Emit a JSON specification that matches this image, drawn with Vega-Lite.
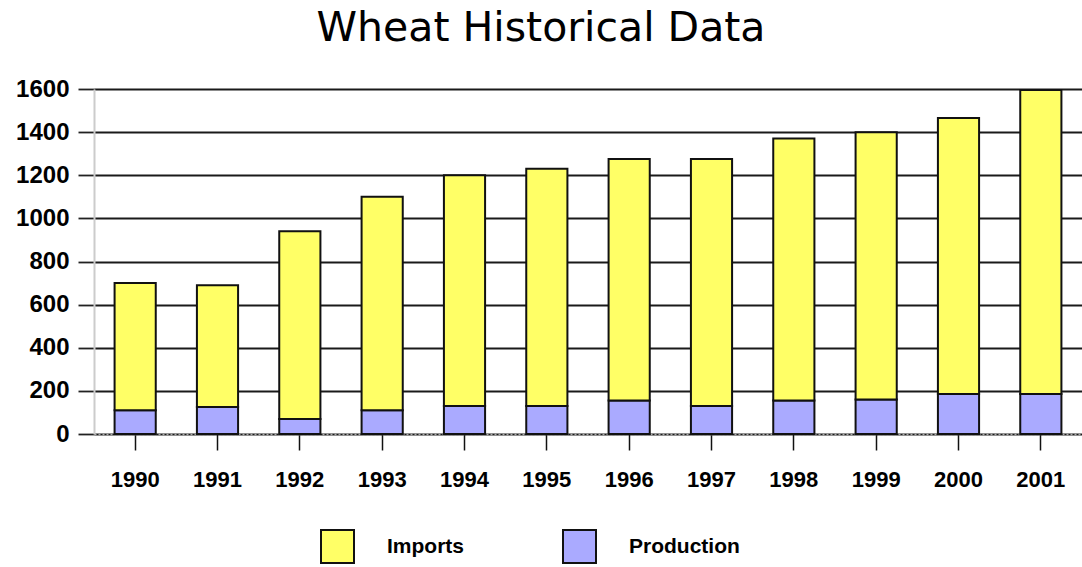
{
  "$schema": "https://vega.github.io/schema/vega-lite/v6.json",
  "autosize": {"type": "none"},
  "width": 988,
  "height": 345,
  "padding": {"left": 94, "top": 89, "right": 0, "bottom": 133},
  "background": "white",
  "title": {
    "text": "Wheat Historical Data",
    "font": "DejaVu Sans",
    "fontSize": 41,
    "fontWeight": "normal",
    "color": "black",
    "anchor": "middle",
    "dx": -47,
    "offset": 27
  },
  "data": {
    "values": [
      {"year": "1990", "series": "Production", "value": 110},
      {"year": "1990", "series": "Imports", "value": 590},
      {"year": "1991", "series": "Production", "value": 125},
      {"year": "1991", "series": "Imports", "value": 565},
      {"year": "1992", "series": "Production", "value": 70},
      {"year": "1992", "series": "Imports", "value": 870},
      {"year": "1993", "series": "Production", "value": 110},
      {"year": "1993", "series": "Imports", "value": 990},
      {"year": "1994", "series": "Production", "value": 130},
      {"year": "1994", "series": "Imports", "value": 1070},
      {"year": "1995", "series": "Production", "value": 130},
      {"year": "1995", "series": "Imports", "value": 1100},
      {"year": "1996", "series": "Production", "value": 155},
      {"year": "1996", "series": "Imports", "value": 1120},
      {"year": "1997", "series": "Production", "value": 130},
      {"year": "1997", "series": "Imports", "value": 1145},
      {"year": "1998", "series": "Production", "value": 155},
      {"year": "1998", "series": "Imports", "value": 1215},
      {"year": "1999", "series": "Production", "value": 160},
      {"year": "1999", "series": "Imports", "value": 1240},
      {"year": "2000", "series": "Production", "value": 185},
      {"year": "2000", "series": "Imports", "value": 1280},
      {"year": "2001", "series": "Production", "value": 185},
      {"year": "2001", "series": "Imports", "value": 1410}
    ]
  },
  "mark": {"type": "bar", "stroke": "#111111", "strokeWidth": 2},
  "encoding": {
    "x": {
      "field": "year",
      "type": "ordinal",
      "title": null,
      "scale": {"paddingInner": 0.5, "paddingOuter": 0.25},
      "axis": {
        "labelAngle": 0,
        "labelFont": "Liberation Sans",
        "labelFontSize": 22,
        "labelFontWeight": "bold",
        "labelColor": "black",
        "labelPadding": 19,
        "tickSize": 16,
        "tickColor": "#111111",
        "tickWidth": 1.5,
        "domainColor": "#aaaaaa",
        "domainDash": [2, 2],
        "domainWidth": 1.5,
        "grid": false
      }
    },
    "y": {
      "field": "value",
      "type": "quantitative",
      "aggregate": "sum",
      "stack": "zero",
      "title": null,
      "scale": {"domain": [0, 1600], "nice": false},
      "axis": {
        "values": [0, 200, 400, 600, 800, 1000, 1200, 1400, 1600],
        "format": "d",
        "labelFont": "Liberation Sans",
        "labelFontSize": 24,
        "labelFontWeight": "bold",
        "labelColor": "black",
        "labelPadding": 9,
        "tickSize": 16,
        "tickColor": "#222222",
        "tickWidth": 1.8,
        "domainColor": "#cccccc",
        "domainWidth": 2,
        "grid": true,
        "gridColor": "#1a1a1a",
        "gridWidth": 1.8,
        "gridOpacity": 1
      }
    },
    "color": {
      "field": "series",
      "type": "nominal",
      "scale": {"domain": ["Imports", "Production"], "range": ["#FFFF66", "#AAAAFF"]},
      "legend": {
        "title": null,
        "orient": "none",
        "direction": "horizontal",
        "legendX": 226,
        "legendY": 440,
        "padding": 0,
        "symbolType": "square",
        "symbolSize": 1089,
        "symbolStrokeColor": "#111111",
        "symbolStrokeWidth": 2,
        "symbolOpacity": 1,
        "labelFont": "Liberation Sans",
        "labelFontSize": 21,
        "labelFontWeight": "bold",
        "labelColor": "black",
        "labelOffset": 32,
        "columnPadding": 94
      }
    },
    "order": {"field": "series", "sort": "descending"}
  }
}
